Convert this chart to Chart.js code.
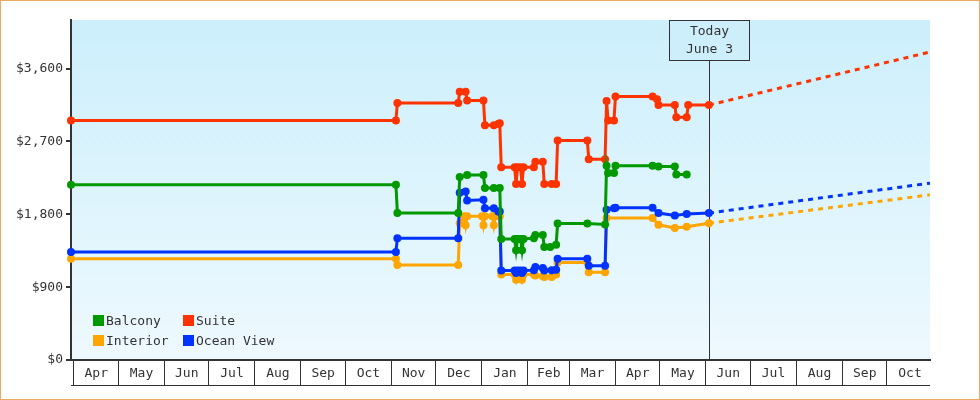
<!DOCTYPE html>
<html>
<head>
<meta charset="utf-8">
<script src="https://cdn.jsdelivr.net/npm/chart.js@4.4.0/dist/chart.umd.min.js"></script>
<style>
  body { margin: 0; background: #fff; }
  #wrap { position: relative; width: 980px; height: 400px; box-sizing: border-box; border: 1px solid #eba85f; }
  canvas { display: block; }
  #legend { position: absolute; left: 92px; top: 314px; display: grid; grid-template-columns: 90px 110px; row-gap: 9px;
            font: 13px "DejaVu Sans Mono", monospace; color: #333; }
  .item { display: flex; align-items: center; height: 11px; white-space: nowrap; }
  .sw { width: 11px; height: 11px; margin-right: 2px; }
</style>
</head>
<body>
<div id="wrap">
  <canvas id="chart" width="978" height="398"></canvas>
  <div id="legend"></div>
</div>
<script>
// axis
const axisStart = '2018-03-30';
const axisEnd = '2019-10-30';
const today = '2019-06-03';
const monthStarts = ['2018-04-01','2018-05-01','2018-06-01','2018-07-01','2018-08-01','2018-09-01','2018-10-01',
  '2018-11-01','2018-12-01','2019-01-01','2019-02-01','2019-03-01','2019-04-01','2019-05-01','2019-06-01',
  '2019-07-01','2019-08-01','2019-09-01','2019-10-01','2019-11-01'];
const monthLabels = ['Apr','May','Jun','Jul','Aug','Sep','Oct','Nov','Dec','Jan','Feb','Mar','Apr','May','Jun',
  'Jul','Aug','Sep','Oct'];
const yTicks = [0, 900, 1800, 2700, 3600];

// Suite
const suiteDates = ['2018-03-30','2018-11-04','2018-11-05','2018-12-16','2018-12-17','2018-12-21','2018-12-22',
  '2019-01-02','2019-01-03','2019-01-09','2019-01-12','2019-01-13','2019-01-14','2019-01-23','2019-01-24',
  '2019-01-25','2019-01-27','2019-01-28','2019-01-29','2019-02-05','2019-02-06','2019-02-11','2019-02-12',
  '2019-02-17','2019-02-20','2019-02-21','2019-03-13','2019-03-14','2019-03-25','2019-03-26','2019-03-27',
  '2019-03-31','2019-04-01','2019-04-26','2019-04-29','2019-04-30','2019-05-11','2019-05-12','2019-05-19',
  '2019-05-20','2019-06-03'];
const suitePrices = [2960,2960,3175,3175,3315,3315,3205,
  3205,2900,2900,2915,2925,2380,2380,2175,
  2380,2380,2175,2380,2380,2450,2450,2175,
  2175,2175,2710,2710,2480,2480,3200,2960,
  2960,3255,3255,3220,3150,3150,3000,3000,
  3150,3150];

// Balcony
const balconyDates = ['2018-03-30','2018-11-04','2018-11-05','2018-12-16','2018-12-17','2018-12-22','2019-01-02',
  '2019-01-03','2019-01-09','2019-01-13','2019-01-14','2019-01-23','2019-01-24','2019-01-25','2019-01-27',
  '2019-01-28','2019-01-29','2019-02-05','2019-02-06','2019-02-11','2019-02-12','2019-02-16','2019-02-20',
  '2019-02-21','2019-03-13','2019-03-25','2019-03-26','2019-03-27','2019-03-31','2019-04-01','2019-04-26',
  '2019-04-30','2019-05-11','2019-05-12','2019-05-19'];
const balconyPrices = [2165,2165,1815,1815,2260,2285,2285,
  2125,2125,2125,1495,1495,1355,1495,1495,
  1355,1495,1505,1545,1545,1395,1395,1425,
  1685,1685,1675,2400,2310,2310,2400,2400,
  2390,2390,2290,2290];

// Ocean View
const oceanDates = ['2018-03-30','2018-11-04','2018-11-05','2018-12-16','2018-12-17','2018-12-21','2018-12-22',
  '2019-01-02','2019-01-03','2019-01-09','2019-01-12','2019-01-13','2019-01-14','2019-01-23','2019-01-24',
  '2019-01-25','2019-01-27','2019-01-28','2019-01-29','2019-02-05','2019-02-06','2019-02-11','2019-02-12',
  '2019-02-17','2019-02-20','2019-02-21','2019-03-13','2019-03-14','2019-03-25','2019-03-26','2019-03-31',
  '2019-04-01','2019-04-26','2019-04-30','2019-05-11','2019-05-19','2019-06-03'];
const oceanPrices = [1335,1335,1505,1505,2065,2080,1970,
  1980,1875,1875,1835,1835,1105,1105,1075,
  1105,1105,1075,1105,1110,1150,1135,1105,
  1110,1115,1250,1250,1165,1165,1855,1875,
  1880,1880,1815,1785,1805,1815];

// Interior
const interiorDates = ['2018-03-30','2018-11-04','2018-11-05','2018-12-16','2018-12-17','2018-12-20','2018-12-21',
  '2018-12-22','2019-01-01','2019-01-02','2019-01-03','2019-01-08','2019-01-09','2019-01-10','2019-01-13',
  '2019-01-14','2019-01-23','2019-01-24','2019-01-25','2019-01-27','2019-01-28','2019-01-29','2019-02-05',
  '2019-02-06','2019-02-11','2019-02-12','2019-02-17','2019-02-20','2019-02-21','2019-03-13','2019-03-14',
  '2019-03-25','2019-03-26','2019-04-26','2019-04-30','2019-05-11','2019-05-19','2019-06-03'];
const interiorPrices = [1250,1250,1175,1175,1690,1775,1665,
  1775,1775,1665,1775,1775,1665,1775,1775,
  1055,1055,990,1055,1055,990,1055,1055,
  1045,1035,1025,1025,1055,1205,1205,1085,
  1085,1755,1755,1670,1630,1645,1690];

// forecast from today
const forecastDates = ['2019-06-03', '2019-10-30'];
const suiteForecast = [3150, 3805];
const oceanForecast = [1815, 2185];
const interiorForecast = [1690, 2040];

const colors = { Balcony: '#009900', Suite: '#ff3300', Interior: '#ffa500', 'Ocean View': '#0033ff' };

const t = s => Date.parse(s);
const pts = (dates, vals) => dates.map((d, i) => ({ x: t(d), y: vals[i] }));

function series(label, dates, vals, order) {
  return {
    label, order, data: pts(dates, vals),
    borderColor: colors[label], backgroundColor: colors[label],
    borderWidth: 3, pointRadius: 4, pointBorderWidth: 0, pointHoverRadius: 4,
    tension: 0, clip: 8
  };
}
function forecast(label, vals, order) {
  return {
    label: label + ' forecast', order, data: pts(forecastDates, vals),
    borderColor: colors[label], borderWidth: 3, borderDash: [5, 5],
    pointRadius: 0, tension: 0
  };
}

// month boxes: a tick at each month start, a labelled tick in the middle
const xTicks = [];
monthLabels.forEach((m, i) => {
  const a = t(monthStarts[i]), b = t(monthStarts[i + 1]);
  xTicks.push({ value: a, edge: true });
  xTicks.push({ value: (a + b) / 2, label: m });
});

const font = { family: '"DejaVu Sans Mono", monospace', size: 13 };

const decorations = {
  id: 'decorations',
  beforeDraw(chart) {
    const { ctx, chartArea: a } = chart;
    const g = ctx.createLinearGradient(0, a.top, 0, a.bottom);
    g.addColorStop(0, '#cceffc');
    g.addColorStop(1, '#eef9fe');
    ctx.save();
    ctx.fillStyle = g;
    ctx.fillRect(a.left, a.top, a.right - a.left, a.bottom - a.top);
    ctx.restore();
  },
  beforeDatasetsDraw(chart) {
    const { ctx, chartArea: a } = chart;
    const x = Math.round(chart.scales.x.getPixelForValue(t(today))) + 0.5;
    ctx.save();
    ctx.strokeStyle = '#333';
    ctx.lineWidth = 1;
    ctx.beginPath();
    ctx.moveTo(x, a.top + 40);
    ctx.lineTo(x, a.bottom);
    ctx.stroke();
    ctx.restore();
  },
  afterDraw(chart) {
    const { ctx, chartArea: a } = chart;
    const x = Math.round(chart.scales.x.getPixelForValue(t(today))) + 0.5;
    ctx.save();
    // today box
    ctx.fillStyle = '#cdeffc';
    ctx.strokeStyle = '#333';
    ctx.lineWidth = 1;
    ctx.fillRect(x - 40, a.top + 0.5, 80, 40);
    ctx.strokeRect(x - 40, a.top + 0.5, 80, 40);
    ctx.fillStyle = '#333';
    ctx.font = '13px "DejaVu Sans Mono", monospace';
    ctx.textAlign = 'center';
    ctx.textBaseline = 'middle';
    ctx.fillText('Today', x, a.top + 12);
    ctx.fillText('June 3', x, a.top + 30);
    // bottom rule of month boxes
    ctx.beginPath();
    ctx.moveTo(a.left, a.bottom + 25.5);
    ctx.lineTo(a.right, a.bottom + 25.5);
    ctx.stroke();
    ctx.restore();
  }
};

const datasets = [
  series('Balcony', balconyDates, balconyPrices, 1),
  series('Suite', suiteDates, suitePrices, 2),
  series('Ocean View', oceanDates, oceanPrices, 3),
  series('Interior', interiorDates, interiorPrices, 4),
  forecast('Suite', suiteForecast, 5),
  forecast('Ocean View', oceanForecast, 6),
  forecast('Interior', interiorForecast, 7)
];

new Chart(document.getElementById('chart'), {
  type: 'line',
  data: { datasets },
  plugins: [decorations],
  options: {
    responsive: false,
    animation: false,
    layout: { padding: { left: 0, top: 19, right: 49, bottom: 0 } },
    plugins: { legend: { display: false }, tooltip: { enabled: false } },
    scales: {
      x: {
        type: 'linear',
        min: t(axisStart),
        max: t(axisEnd),
        afterBuildTicks: s => { s.ticks = xTicks.map(k => ({ ...k })); },
        afterFit: s => { s.height = 39; },
        grid: { drawOnChartArea: false, tickLength: 25, lineWidth: 1,
                color: c => (c.index % 2 === 0 ? '#333' : 'rgba(0,0,0,0)') },
        border: { color: '#333', width: 2 },
        ticks: { autoSkip: false, maxRotation: 0, padding: -19, color: '#333', font,
                 callback: (v, i) => xTicks[i].label || '' }
      },
      y: {
        min: 0,
        max: 4200,
        afterBuildTicks: s => { s.ticks = yTicks.map(v => ({ value: v })); },
        afterFit: s => { s.width = 70; },
        grid: { drawOnChartArea: false, tickLength: 5, lineWidth: 2, color: '#333' },
        border: { color: '#333', width: 2 },
        ticks: { padding: 3, color: '#333', font, callback: v => '$' + v.toLocaleString('en-US') }
      }
    }
  }
});

// legend in the plot corner, two columns
const legend = document.getElementById('legend');
['Balcony', 'Suite', 'Interior', 'Ocean View'].forEach(name => {
  const d = document.createElement('div');
  d.className = 'item';
  d.innerHTML = '<span class="sw" style="background:' + colors[name] + '"></span>' + name;
  legend.appendChild(d);
});
</script>
</body>
</html>
